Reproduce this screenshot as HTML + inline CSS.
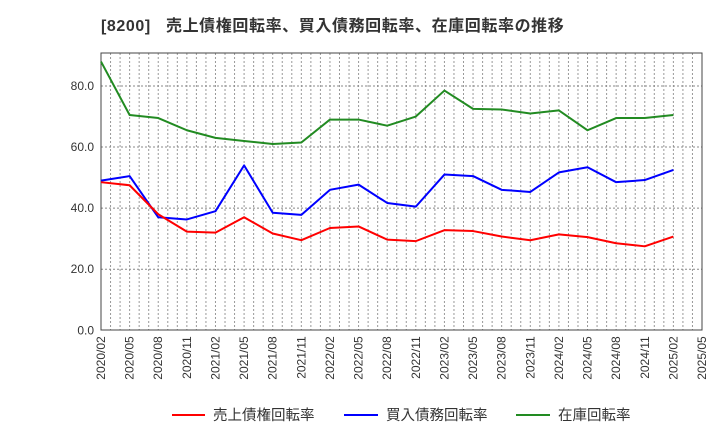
<!DOCTYPE html>
<html><head><meta charset="utf-8"><style>
body{margin:0;background:#fff;font-family:"Liberation Sans","Noto Sans CJK JP",sans-serif;}
</style></head><body>
<svg width="720" height="440" xmlns="http://www.w3.org/2000/svg" font-family="Liberation Sans, Noto Sans CJK JP, sans-serif">
<text x="101" y="31" font-size="16" font-weight="bold" letter-spacing="0.6" fill="#333" xml:space="preserve">[8200]   売上債権回転率、買入債務回転率、在庫回転率の推移</text>
<g id="grid"></g>
<rect x="101" y="53" width="601" height="277" fill="none" stroke="#444" stroke-width="1"/>
<g id="axes"></g>
<g id="series"></g>
<g>
<line x1="172" y1="415" x2="205" y2="415" stroke="#f00" stroke-width="2"/>
<text x="213" y="420" font-size="14.5" fill="#333">売上債権回転率</text>
<line x1="344" y1="415" x2="378" y2="415" stroke="#00f" stroke-width="2"/>
<text x="386" y="420" font-size="14.5" fill="#333">買入債務回転率</text>
<line x1="516" y1="415" x2="550" y2="415" stroke="#228b22" stroke-width="2"/>
<text x="558" y="420" font-size="14.5" fill="#333">在庫回転率</text>
</g>
</svg>
<script>
const xLabels=["2020/02","2020/05","2020/08","2020/11","2021/02","2021/05","2021/08","2021/11","2022/02","2022/05","2022/08","2022/11","2023/02","2023/05","2023/08","2023/11","2024/02","2024/05","2024/08","2024/11","2025/02","2025/05"];
const yTicks=[0,20,40,60,80];
const receivables=[48.5,47.5,38,32.3,32,37,31.7,29.5,33.5,34,29.7,29.2,32.8,32.5,30.7,29.5,31.4,30.5,28.5,27.5,30.7];
const payables=[49,50.5,37,36.3,39,54,38.5,37.8,46,47.7,41.7,40.5,51,50.5,46,45.3,51.7,53.4,48.5,49.2,52.5];
const inventory=[88,70.5,69.5,65.5,63,62,61,61.5,69,69,67,70,78.5,72.5,72.3,71,72,65.5,69.5,69.5,70.5];
const NS="http://www.w3.org/2000/svg";
const L=101,R=702,T=53,B=330.3,yMax=90.8;
const step=(R-L)/63;
function xq(i){return L+i*3*step;}
function y(v){return B-v/yMax*(B-T);}
function mk(tag,attrs,parent){const e=document.createElementNS(NS,tag);for(const k in attrs)e.setAttribute(k,attrs[k]);document.getElementById(parent).appendChild(e);return e;}
for(let m=1;m<63;m++){
const l=mk('line',{x1:L+m*step,x2:L+m*step,y1:T,y2:B,stroke:'#999','stroke-width':1,'stroke-dasharray':'2,2'},'grid');


}
yTicks.forEach(v=>{
if(v>0){const g=mk('line',{x1:L,x2:R,y1:y(v),y2:y(v),stroke:'#888','stroke-width':1,'stroke-dasharray':'2,2'},'grid');

}
const t=mk('text',{x:L-7,y:y(v)+4,'font-size':12,fill:'#333','text-anchor':'end'},'axes');
t.textContent=v.toFixed(1);


});
xLabels.forEach((s,i)=>{
const x=xq(i);
const t=mk('text',{x:x+4,y:B+6,'font-size':12,fill:'#333','text-anchor':'end',transform:`rotate(-90 ${x+4} ${B+6})`},'axes');
t.textContent=s;


});
function line(arr,color,name){
const p=mk('polyline',{points:arr.map((v,i)=>xq(i)+','+y(v)).join(' '),fill:'none',stroke:color,'stroke-width':2,'stroke-linejoin':'round'},'series');


}
line(inventory,'#228b22','inventory-turnover-line');
line(payables,'#0000ff','payables-turnover-line');
line(receivables,'#ff0000','receivables-turnover-line');
</script>
</body></html>
